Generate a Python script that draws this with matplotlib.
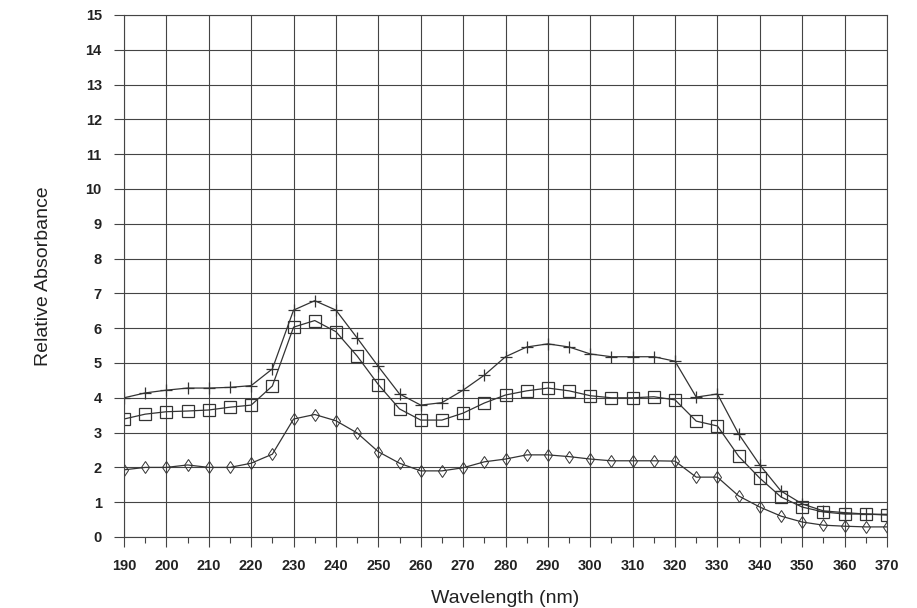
import matplotlib
matplotlib.use("Agg")
import matplotlib.pyplot as plt
from matplotlib.ticker import MultipleLocator

wavelength = list(range(190, 371, 5))

plus_series = [4.0, 4.14, 4.22, 4.28, 4.28, 4.3, 4.35, 4.83, 6.52, 6.79, 6.52, 5.72, 4.9,
               4.11, 3.79, 3.86, 4.22, 4.65, 5.18, 5.46, 5.55, 5.46, 5.26, 5.18, 5.18, 5.18,
               5.05, 4.02, 4.11, 2.96, 2.07, 1.32, 0.95, 0.75, 0.7, 0.66, 0.65]
square_series = [3.39, 3.53, 3.6, 3.62, 3.65, 3.73, 3.79, 4.34, 6.03, 6.22, 5.9, 5.2, 4.38,
                 3.68, 3.36, 3.36, 3.56, 3.85, 4.08, 4.2, 4.28, 4.2, 4.06, 4.0, 4.0, 4.03,
                 3.94, 3.33, 3.19, 2.32, 1.69, 1.15, 0.86, 0.72, 0.66, 0.66, 0.63]
diamond_series = [1.93, 2.0, 2.0, 2.07, 2.0, 2.0, 2.12, 2.38, 3.39, 3.52, 3.34, 2.99, 2.45,
                  2.12, 1.9, 1.9, 1.99, 2.16, 2.24, 2.36, 2.36, 2.31, 2.24, 2.19, 2.19, 2.19,
                  2.18, 1.72, 1.72, 1.18, 0.86, 0.6, 0.43, 0.34, 0.31, 0.29, 0.29]

x_ticks = list(range(190, 371, 10))
y_ticks = list(range(0, 16))
y_tick_labels = [str(v) for v in y_ticks]

fig = plt.figure(figsize=(9.17, 6.08), dpi=100)
ax = fig.add_axes([124/917, 1-537/608, 763/917, 522/608])

lc = "#333333"
ax.plot(wavelength, plus_series, color=lc, lw=0.9, marker="+", ms=8, mew=0.9)
ax.plot(wavelength, square_series, color=lc, lw=0.9, marker="s", ms=9, mfc="none", mew=0.9)
ax.plot(wavelength, diamond_series, color=lc, lw=0.9, marker="d", ms=6, mfc="none", mew=0.7)

ax.set_xlim(190, 370)
ax.set_ylim(0, 15)
ax.set_xticks(x_ticks)
ax.xaxis.set_minor_locator(MultipleLocator(5))
ax.set_yticks(y_ticks)
ax.set_yticklabels(y_tick_labels)
ax.grid(True, which="major", color="#444444", lw=0.8)
for s in ax.spines.values():
    s.set_color("#444444")
    s.set_linewidth(0.8)
ax.tick_params(axis="both", which="major", length=7, width=0.8, color="#444444",
               labelsize=10.5)
ax.tick_params(axis="x", which="major", pad=9)
ax.tick_params(axis="y", which="major", pad=9)
ax.tick_params(axis="x", which="minor", length=4, width=0.8, color="#444444")
for lab in ax.get_xticklabels() + ax.get_yticklabels():
    lab.set_fontweight("bold")
    lab.set_family("Liberation Sans")
    lab.set_color("#222222")

ax.set_xlabel("Wavelength (nm)", fontsize=14, family="Liberation Sans", labelpad=12, color="#222222")
ax.set_ylabel("Relative Absorbance", fontsize=14, family="Liberation Sans", labelpad=24, color="#222222")

fig.savefig("out.png", dpi=100)
